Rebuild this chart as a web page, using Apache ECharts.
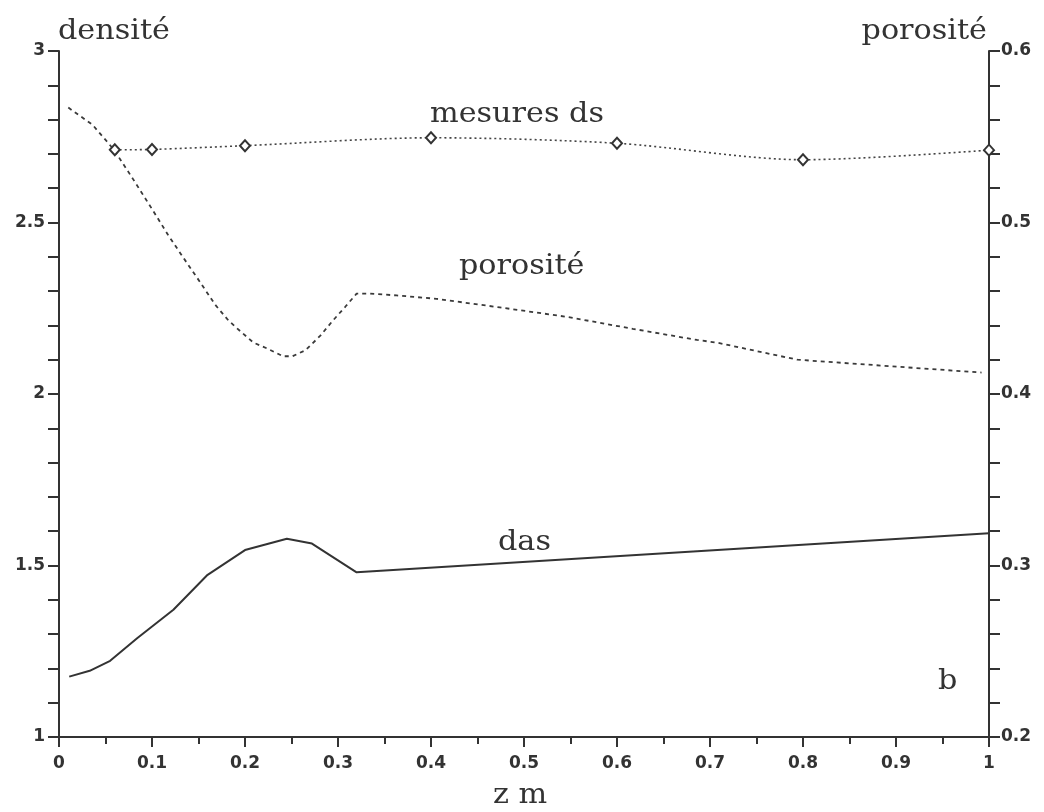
<!DOCTYPE html>
<html lang="fr">
<head>
    <meta charset="UTF-8">
    <title>densité / porosité</title>
    <script src="https://cdn.jsdelivr.net/npm/echarts@6/dist/echarts.min.js"></script>
    <style>
        html, body { margin: 0; padding: 0; background: #fff; }
        #box { width: 1044px; height: 812px; }
    </style>
</head>
<body>
<div id="box"></div>
<script>
    // z (m), das (densité apparente sèche, axe gauche)
    var dasZ = [0.011, 0.033, 0.055, 0.084, 0.123, 0.159, 0.2, 0.245, 0.272, 0.32, 1.0];
    var dasVal = [1.176, 1.193, 1.222, 1.288, 1.371, 1.471, 1.545, 1.578, 1.564, 1.48, 1.594];

    // porosité (axe droit)
    var poroZ = [0.01, 0.036, 0.059, 0.08, 0.101, 0.117, 0.133, 0.152, 0.168, 0.182, 0.191, 0.209, 0.224,
        0.241, 0.251, 0.265, 0.281, 0.294, 0.308, 0.32, 0.334, 0.363, 0.406, 0.474, 0.546, 0.617, 0.686,
        0.707, 0.794, 0.886, 0.992];
    var poroVal = [0.567, 0.557, 0.5425, 0.525, 0.507, 0.493, 0.48, 0.465, 0.452, 0.443, 0.4385, 0.43, 0.4265,
        0.422, 0.422, 0.4255, 0.434, 0.4425, 0.451, 0.4585, 0.4585, 0.4575, 0.4555, 0.4505, 0.445, 0.438, 0.4315,
        0.43, 0.42, 0.4165, 0.4125];

    // mesures ds (axe gauche)
    var dsZ = [0.06, 0.1, 0.2, 0.4, 0.6, 0.8, 1.0];
    var dsVal = [2.712, 2.713, 2.724, 2.747, 2.731, 2.683, 2.711];

    function pairs(xs, ys) {
        return xs.map(function (x, i) { return [x, ys[i]]; });
    }

    var ink = '#333';
    var labelFont = { fontFamily: 'DejaVu Sans', fontSize: 17, fontWeight: 'bold', color: '#333' };
    var serif = '28px "DejaVu Serif"';

    function axisStyle(extra) {
        var a = {
            axisLine: { show: true, lineStyle: { color: ink, width: 2 } },
            axisTick: { show: true, inside: false, length: 11, lineStyle: { color: ink, width: 2 } },
            minorTick: { show: true, splitNumber: 5, length: 11, lineStyle: { color: ink, width: 2 } },
            splitLine: { show: false },
            minorSplitLine: { show: false }
        };
        for (var k in extra) a[k] = extra[k];
        return a;
    }

    function label(txt, x, baseline, align) {
        return {
            type: 'text',
            x: x,
            y: baseline - 10,
            scaleX: 1.08,
            style: {
                text: txt,
                font: serif,
                fill: ink,
                align: align || 'left',
                textAlign: align || 'left',
                verticalAlign: 'middle',
                textVerticalAlign: 'middle'
            }
        };
    }

    var mychart = echarts.init(document.getElementById('box'));
    var option = {
        animation: false,
        grid: { left: 59, right: 55, top: 51, bottom: 75 },
        xAxis: axisStyle({
            type: 'value',
            min: 0,
            max: 1,
            interval: 0.1,
            axisTick: { show: true, length: 10, lineStyle: { color: ink, width: 2 } },
            minorTick: { show: true, splitNumber: 2, length: 7, lineStyle: { color: ink, width: 2 } },
            axisLabel: Object.assign({ margin: 18 }, labelFont)
        }),
        yAxis: [
            axisStyle({
                type: 'value',
                position: 'left',
                min: 1,
                max: 3,
                interval: 0.5,
                axisLabel: Object.assign({ margin: 14 }, labelFont)
            }),
            axisStyle({
                type: 'value',
                position: 'right',
                min: 0.2,
                max: 0.6,
                interval: 0.1,
                axisLabel: Object.assign({ margin: 12 }, labelFont)
            })
        ],
        series: [
            {
                name: 'das',
                type: 'line',
                yAxisIndex: 0,
                data: pairs(dasZ, dasVal),
                showSymbol: false,
                lineStyle: { color: ink, width: 2 }
            },
            {
                name: 'porosité',
                type: 'line',
                yAxisIndex: 1,
                data: pairs(poroZ, poroVal),
                showSymbol: false,
                lineStyle: { color: '#3a3a3a', width: 1.8, type: [4, 4] }
            },
            {
                name: 'mesures ds',
                type: 'line',
                yAxisIndex: 0,
                data: pairs(dsZ, dsVal),
                smooth: 0.3,
                symbol: 'diamond',
                symbolSize: [10, 11],
                itemStyle: { color: '#fff', borderColor: ink, borderWidth: 2 },
                lineStyle: { color: '#444', width: 1.6, type: [2, 3] }
            }
        ],
        graphic: [
            label('densité', 58, 42),
            label('porosité', 987, 42, 'right'),
            label('mesures ds', 430, 125),
            label('porosité', 459, 277),
            label('das', 498, 553),
            label('b', 938, 692),
            label('z m', 493, 806)
        ]
    };
    mychart.setOption(option);
</script>
</body>
</html>
